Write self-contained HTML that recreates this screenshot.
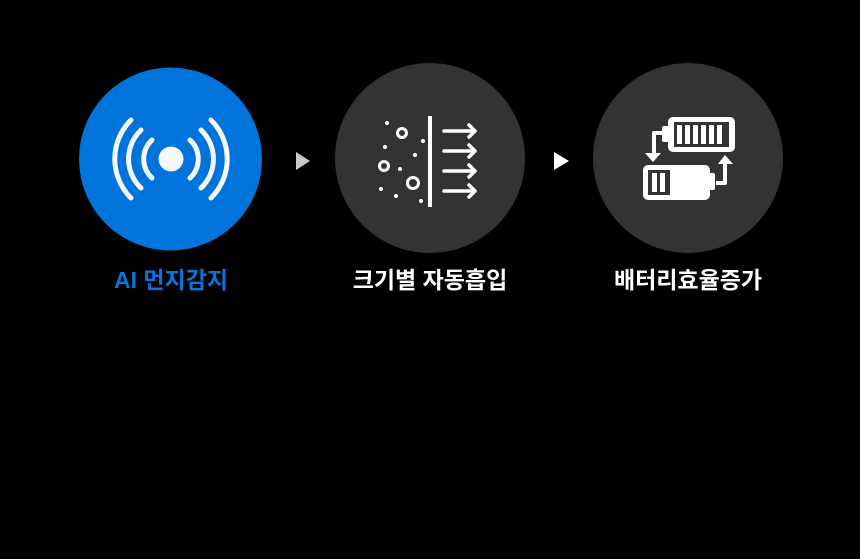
<!DOCTYPE html>
<html><head><meta charset="utf-8"><style>
html,body{margin:0;padding:0;background:#000;width:860px;height:559px;overflow:hidden}
text{font-family:"Liberation Sans","Noto Sans CJK KR",sans-serif;font-weight:bold;font-size:23px}
</style></head><body>
<svg width="860" height="559" viewBox="0 0 860 559" xmlns="http://www.w3.org/2000/svg">
<rect width="860" height="559" fill="#000"/>
<circle cx="170.5" cy="159" r="91.5" fill="#0074db"/>
<circle cx="171" cy="159" r="12.5" fill="#f5f8fc"/>
<g fill="none" stroke="#f5f8fc" stroke-width="5" stroke-linecap="round">
<path d="M152 140 A26 26 0 0 0 152 178"/>
<path d="M190 140 A26 26 0 0 1 190 178"/>
<path d="M141 130 A40 40 0 0 0 141 188"/>
<path d="M201 130 A40 40 0 0 1 201 188"/>
<path d="M131 120 A55 55 0 0 0 131 198"/>
<path d="M211 120 A55 55 0 0 1 211 198"/>
</g>
<text x="171" y="288" text-anchor="middle" fill="#0a74db">AI 먼지감지</text>
<polygon points="296,152 310,161 296,170" fill="#c8c8c8"/>
<circle cx="430" cy="158" r="95" fill="#333"/>
<g fill="#fff">
<circle cx="387" cy="123" r="2"/><circle cx="385" cy="147" r="2"/><circle cx="423" cy="141" r="2"/>
<circle cx="415" cy="155" r="2"/><circle cx="400" cy="169" r="2"/><circle cx="381" cy="189" r="2"/>
<circle cx="396" cy="196" r="2"/><circle cx="421" cy="201" r="2"/>
<rect x="428" y="116" width="4" height="91"/>
</g>
<g fill="none" stroke="#fff" stroke-width="3">
<circle cx="402" cy="133" r="4.5"/><circle cx="384" cy="166" r="4.5"/><circle cx="413" cy="183" r="5.5"/>
</g>
<g fill="none" stroke="#fff" stroke-width="3.5" stroke-linecap="round" stroke-linejoin="round">
<path d="M444 131 H475 M469 125 L475 131 L469 137"/>
<path d="M444 151 H475 M469 145 L475 151 L469 157"/>
<path d="M444 171 H475 M469 165 L475 171 L469 177"/>
<path d="M444 191 H475 M469 185 L475 191 L469 197"/>
</g>
<text x="430" y="288" text-anchor="middle" fill="#fff">크기별 자동흡입</text>
<polygon points="554,152 569,161 554,170" fill="#fff"/>
<circle cx="688" cy="158" r="95" fill="#333"/>
<g fill="#fff">
<rect x="668" y="117" width="67" height="35" rx="5"/>
<rect x="662" y="126" width="8" height="16" rx="2"/>
<rect x="643" y="165" width="67" height="35" rx="5"/>
<rect x="707" y="173" width="8" height="17" rx="2"/>
</g>
<rect x="674" y="122" width="55" height="25" fill="#333"/>
<g fill="#fff">
<rect x="677" y="125" width="5" height="19"/><rect x="685" y="125" width="5" height="19"/>
<rect x="693" y="125" width="5" height="19"/><rect x="701" y="125" width="5" height="19"/>
<rect x="709" y="125" width="5" height="19"/><rect x="717" y="125" width="5" height="19"/>
</g>
<rect x="648" y="170" width="22" height="25" fill="#333"/>
<g fill="#fff"><rect x="652" y="173" width="5" height="19"/><rect x="660" y="173" width="5" height="19"/></g>
<g fill="none" stroke="#fff" stroke-width="4" stroke-linejoin="round">
<path d="M662 133 H654 V155"/>
<path d="M716 183 H725 V162"/>
</g>
<g fill="#fff">
<polygon points="645,153 661,153 653,162"/>
<polygon points="718,164 733,164 725,155"/>
</g>
<text x="688" y="288" text-anchor="middle" fill="#fff">배터리효율증가</text>
</svg>
</body></html>
